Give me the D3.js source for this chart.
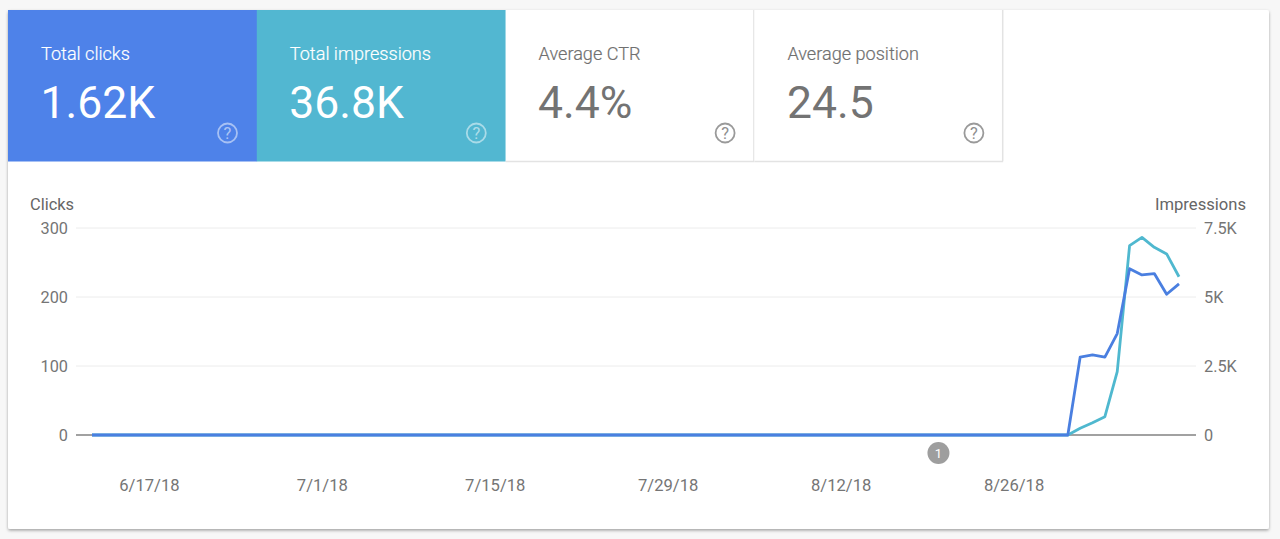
<!DOCTYPE html>
<html>
<head>
<meta charset="utf-8">
<script src="https://cdn.jsdelivr.net/npm/d3@7"></script>
<style>
html, body { margin: 0; padding: 0; background: #f7f7f7; overflow: hidden; }
svg { display: block; font-family: Roboto, sans-serif; }
.axis .domain { display: none; }
.axis text { font-size: 16.3px; fill: #757575; font-family: Roboto, sans-serif; }
.axis.dates text { font-size: 16.6px; }
</style>
</head>
<body>
<svg id="chart" width="1280" height="539"></svg>
<script>
const tile_titles = ["Total clicks", "Total impressions", "Average CTR", "Average position"];
const tile_values = ["1.62K", "36.8K", "4.4%", "24.5"];
const tile_fills = ["#4e82e9", "#52b7d1", "#ffffff", "#ffffff"];

const first_day = "2018-06-13";
const last_day = "2018-09-09";
const date_ticks = ["2018-06-17", "2018-07-01", "2018-07-15", "2018-07-29", "2018-08-12", "2018-08-26"];
const annotation_day = "2018-08-20";
const annotation_label = "1";

const clicks_ticks = [0, 100, 200, 300];
const impressions_ticks = [0, 2500, 5000, 7500];

const clicks = [
    0,0,0,0,0,0,0,0,0,0,0,0,0,0,0,0,0,0,0,0,
    0,0,0,0,0,0,0,0,0,0,0,0,0,0,0,0,0,0,0,0,
    0,0,0,0,0,0,0,0,0,0,0,0,0,0,0,0,0,0,0,0,
    0,0,0,0,0,0,0,0,0,0,0,0,0,0,0,0,0,0,0,0,
    113,116,113,147,241,232,234,204,219
];
const impressions = [
    0,0,0,0,0,0,0,0,0,0,0,0,0,0,0,0,0,0,0,0,
    0,0,0,0,0,0,0,0,0,0,0,0,0,0,0,0,0,0,0,0,
    0,0,0,0,0,0,0,0,0,0,0,0,0,0,0,0,0,0,0,0,
    0,0,0,0,0,0,0,0,0,0,0,0,0,0,0,0,0,0,0,0,
    243,446,664,2293,6860,7160,6800,6560,5735
];

const parse_day = d3.utcParse("%Y-%m-%d");
const format_day = d => `${d.getUTCMonth() + 1}/${d.getUTCDate()}/${String(d.getUTCFullYear()).slice(2)}`;
const format_k = d => d === 0 ? "0" : `${d / 1000}K`;

const days = d3.utcDay.range(parse_day(first_day), d3.utcDay.offset(parse_day(last_day), 1));

const svg = d3.select("#chart");
const defs = svg.append("defs");
const shadow = defs.append("filter").attr("id", "card_shadow")
    .attr("x", "-2%").attr("y", "-2%").attr("width", "104%").attr("height", "104%");
shadow.append("feDropShadow")
    .attr("dx", 0).attr("dy", 1.5).attr("stdDeviation", 1.5)
    .attr("flood-color", "#000").attr("flood-opacity", 0.35);

// card
svg.append("rect")
    .attr("x", 8).attr("y", 10).attr("width", 1261).attr("height", 519).attr("rx", 2)
    .attr("fill", "#fff").attr("filter", "url(#card_shadow)");

// tiles
const tile_w = 248.8;
const tile_h = 151;
const tiles = svg.append("g").selectAll("g")
    .data(tile_titles)
    .join("g")
    .attr("transform", (d, i) => `translate(${8 + i * tile_w},10)`);

tiles.append("rect")
    .attr("width", tile_w + 0.3).attr("height", tile_h + 0.5)
    .attr("fill", (d, i) => tile_fills[i]);

tiles.filter((d, i) => i > 1).append("path")
    .attr("d", `M0,${tile_h + 0.5}H${tile_w}M${tile_w - 0.5},0V${tile_h}`)
    .attr("fill", "none").attr("stroke", "#e3e3e3").attr("stroke-width", 1.5);

tiles.append("text")
    .attr("x", 33).attr("y", 49.5)
    .attr("font-size", 18.1)
    .attr("font-weight", 300)
    .attr("stroke", (d, i) => i < 2 ? "#fff" : "#707070")
    .attr("stroke-width", 0.2)
    .attr("fill", (d, i) => i < 2 ? "#fff" : "#707070")
    .text(d => d);

tiles.append("text")
    .attr("x", 32.5).attr("y", 118 - 10)
    .attr("font-size", 44.5)
    .attr("fill", (d, i) => i < 2 ? "#fff" : "#737373")
    .text((d, i) => tile_values[i]);

tiles.append("circle")
    .attr("cx", 219.5).attr("cy", 123).attr("r", 9.5)
    .attr("fill", "none").attr("stroke-width", 1.8)
    .attr("stroke", (d, i) => i < 2 ? "rgba(255,255,255,0.5)" : "#9a9a9a");

tiles.append("text")
    .attr("x", 219.5).attr("y", 129)
    .attr("text-anchor", "middle").attr("font-size", 16.5)
    .attr("fill", (d, i) => i < 2 ? "rgba(255,255,255,0.55)" : "#8f8f8f")
    .text("?");

// scales
const x = d3.scaleUtc().domain([days[0], days[days.length - 1]]).range([92, 1179]);
const y_clicks = d3.scaleLinear().domain([0, 300]).range([435, 228]);
const y_impressions = d3.scaleLinear().domain([0, 7500]).range([435, 228]);
// labels and the annotation sit a bit to the right of their day's point
const day_offset = 7.5;

// gridlines
svg.append("g").selectAll("line")
    .data(clicks_ticks)
    .join("line")
    .attr("x1", 76).attr("x2", 1196)
    .attr("y1", d => y_clicks(d)).attr("y2", d => y_clicks(d))
    .attr("stroke", d => d === 0 ? "#828282" : "#ececec")
    .attr("stroke-width", d => d === 0 ? 1.3 : 1);

// axes
svg.append("g").attr("class", "axis")
    .attr("transform", "translate(76,0)")
    .call(d3.axisLeft(y_clicks).tickValues(clicks_ticks).tickSize(0).tickPadding(8));

svg.append("g").attr("class", "axis")
    .attr("transform", "translate(1196,0)")
    .call(d3.axisRight(y_impressions).tickValues(impressions_ticks).tickFormat(format_k).tickSize(0).tickPadding(8));

svg.append("g").attr("class", "axis dates")
    .attr("transform", "translate(0,475.5)")
    .call(d3.axisBottom(x).tickValues(date_ticks.map(parse_day)).tickFormat(format_day).tickSize(0).tickPadding(0))
    .call(g => g.selectAll("text").attr("dx", day_offset).attr("y", 0).attr("dy", "0.95em"));

svg.append("text")
    .attr("x", 30).attr("y", 210)
    .attr("font-size", 16.4).attr("fill", "#666")
    .text("Clicks");

svg.append("text")
    .attr("x", 1246).attr("y", 210)
    .attr("text-anchor", "end")
    .attr("font-size", 16.6).attr("fill", "#666")
    .text("Impressions");

// lines
const draw_line = (values, scale, color) => {
    svg.append("path")
        .datum(values)
        .attr("fill", "none")
        .attr("stroke", color)
        .attr("stroke-width", 2.8)
        .attr("stroke-linejoin", "round")
        .attr("d", d3.line().x((d, i) => x(days[i])).y(d => scale(d)));
};
draw_line(impressions, y_impressions, "#4fb8cf");
draw_line(clicks, y_clicks, "#4a7fe0");

// annotation
const note_x = x(parse_day(annotation_day)) + day_offset - 1;
svg.append("circle")
    .attr("cx", note_x).attr("cy", 453).attr("r", 11)
    .attr("fill", "#9e9e9e");
svg.append("text")
    .attr("x", note_x).attr("y", 458)
    .attr("text-anchor", "middle").attr("font-size", 13)
    .attr("fill", "#fff")
    .text(annotation_label);
</script>
</body>
</html>
